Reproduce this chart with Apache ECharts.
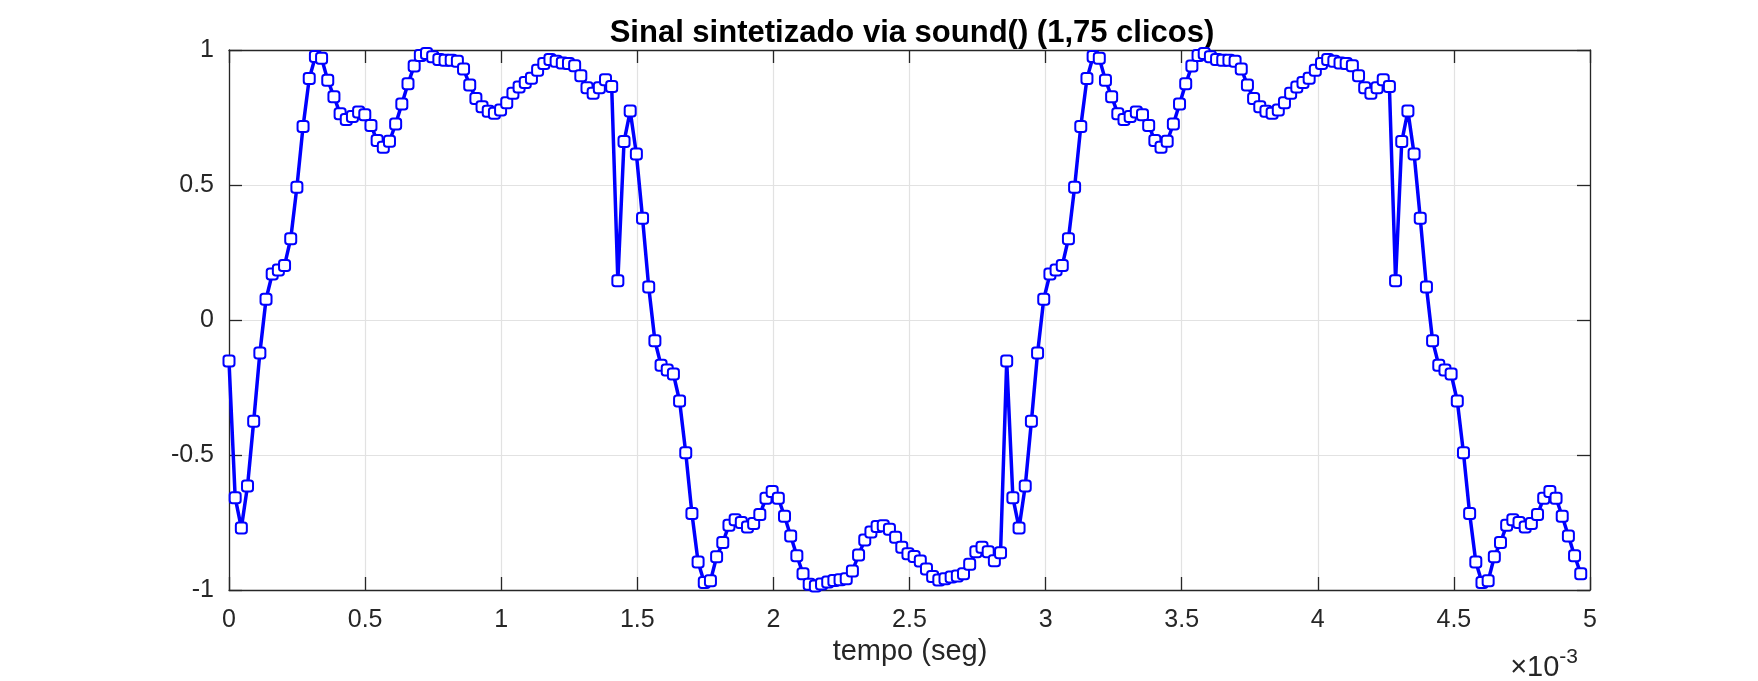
<!DOCTYPE html>
<html>
<head>
<meta charset="utf-8">
<script src="https://cdn.jsdelivr.net/npm/echarts@6/dist/echarts.min.js"></script>
<style>
  html, body { margin: 0; padding: 0; background: #fff; }
  #grafico { width: 1758px; height: 681px; }
</style>
</head>
<body>
<div id="grafico"></div>
<script>
// taxa de amostragem usada pelo sound()
const fs = 44100;
const titulo = 'Sinal sintetizado via sound() (1,75 clicos)';
const rotuloX = 'tempo (seg)';
const yTicks = [-1, -0.5, 0, 0.5, 1];

// amostras, n = 0 .. 219
const sinal = [
  // primeiro ciclo, primeira metade
  -0.152, -0.658, -0.770, -0.615, -0.375, -0.122, 0.077, 0.170, 0.185, 0.202,
  0.301, 0.492, 0.717, 0.894, 0.976, 0.969, 0.888, 0.827, 0.764, 0.743,
  0.754, 0.770, 0.760, 0.720, 0.665, 0.640, 0.662, 0.726, 0.800, 0.875,
  0.941, 0.980, 0.987, 0.975, 0.965, 0.962, 0.962, 0.958, 0.930, 0.870,
  0.820, 0.790, 0.773, 0.766, 0.778, 0.805, 0.840, 0.863, 0.880, 0.895,
  0.925, 0.950, 0.965, 0.958, 0.952, 0.950, 0.942, 0.905, 0.860, 0.840,
  0.860, 0.890, 0.865,
  // primeiro ciclo, segunda metade
  0.145, 0.661, 0.774, 0.615, 0.377, 0.122, -0.077, -0.168, -0.185, -0.200,
  -0.300, -0.492, -0.717, -0.896, -0.972, -0.966, -0.877, -0.824, -0.760, -0.740,
  -0.750, -0.767, -0.754, -0.720, -0.660, -0.635, -0.660, -0.727, -0.800, -0.873,
  -0.940, -0.979, -0.985, -0.978, -0.970, -0.965, -0.962, -0.958, -0.930, -0.870,
  -0.815, -0.785, -0.765, -0.762, -0.775, -0.805, -0.842, -0.866, -0.876, -0.893,
  -0.922, -0.950, -0.963, -0.958, -0.952, -0.948, -0.940, -0.905, -0.858, -0.842,
  -0.858, -0.892, -0.862,
  // segundo ciclo
  -0.152, -0.658, -0.770, -0.615, -0.375, -0.122, 0.077, 0.170, 0.185, 0.202,
  0.301, 0.492, 0.717, 0.894, 0.976, 0.969, 0.888, 0.827, 0.764, 0.743,
  0.754, 0.770, 0.760, 0.720, 0.665, 0.640, 0.662, 0.726, 0.800, 0.875,
  0.941, 0.980, 0.987, 0.975, 0.965, 0.962, 0.962, 0.958, 0.930, 0.870,
  0.820, 0.790, 0.773, 0.766, 0.778, 0.805, 0.840, 0.863, 0.880, 0.895,
  0.925, 0.950, 0.965, 0.958, 0.952, 0.950, 0.942, 0.905, 0.860, 0.840,
  0.860, 0.890, 0.865,
  0.145, 0.661, 0.774, 0.615, 0.377, 0.122, -0.077, -0.168, -0.185, -0.200,
  -0.300, -0.492, -0.717, -0.896, -0.972, -0.966, -0.877, -0.824, -0.760, -0.740,
  -0.750, -0.767, -0.754, -0.720, -0.660, -0.635, -0.660, -0.727, -0.800, -0.873,
  -0.940
];

const pontos = sinal.map((v, n) => [n / fs, v]);

const chart = echarts.init(document.getElementById('grafico'));

const corEixo = '#262626';
const fonte = '"Liberation Sans", Arial, Helvetica, sans-serif';

const eixoX = {
  type: 'value',
  min: 0,
  max: 0.005,
  interval: 0.0005,
  axisLine: { onZero: false, lineStyle: { color: corEixo, width: 1.3 } },
  axisTick: { inside: true, length: 13, lineStyle: { color: corEixo, width: 1.3 } },
  splitLine: { show: false },
};

const eixoY = {
  type: 'value',
  min: -1,
  max: 1,
  interval: 0.5,
  axisLine: { onZero: false, lineStyle: { color: corEixo, width: 1.3 } },
  axisTick: { inside: true, length: 13, lineStyle: { color: corEixo, width: 1.3 } },
  splitLine: { show: false },
};

chart.setOption({
  animation: false,
  backgroundColor: '#fff',
  grid: { left: 229, right: 168, top: 50, bottom: 91 },
  xAxis: [
    {
      ...eixoX,
      position: 'bottom',
      splitLine: { show: true, lineStyle: { color: '#e2e2e2', width: 1.2 } },
      axisLabel: {
        color: corEixo,
        fontFamily: fonte,
        fontSize: 25,
        margin: 18,
        formatter: (v) => String(Math.round(v * 10000) / 10),
      },
    },
    { ...eixoX, position: 'top', axisLabel: { show: false } },
  ],
  yAxis: [
    {
      ...eixoY,
      position: 'left',
      splitLine: { show: true, lineStyle: { color: '#e2e2e2', width: 1.2 } },
      axisLabel: {
        color: corEixo,
        fontFamily: fonte,
        fontSize: 25,
        margin: 15,
        customValues: yTicks,
        formatter: (v) => String(v),
      },
    },
    { ...eixoY, position: 'right', axisLabel: { show: false } },
  ],
  graphic: [
    {
      type: 'text',
      x: 912,
      y: 33,
      style: {
        text: titulo,
        font: 'bold 31px ' + fonte,
        fill: '#000',
        textAlign: 'center',
        textVerticalAlign: 'middle',
      },
    },
    {
      type: 'text',
      x: 910,
      y: 652,
      style: {
        text: rotuloX,
        font: '29px ' + fonte,
        fill: corEixo,
        textAlign: 'center',
        textVerticalAlign: 'middle',
      },
    },
    {
      type: 'text',
      x: 1578,
      y: 682,
      style: {
        text: '{a|×10}{b|-3}',
        textAlign: 'right',
        textVerticalAlign: 'bottom',
        rich: {
          a: { font: '29px ' + fonte, fill: corEixo, verticalAlign: 'bottom' },
          b: { font: '21px ' + fonte, fill: corEixo, verticalAlign: 'top', padding: [0, 0, 14, 0] },
        },
      },
    },
  ],
  series: [
    {
      type: 'line',
      data: pontos,
      xAxisIndex: 0,
      yAxisIndex: 0,
      symbol: 'emptyRoundRect',
      symbolSize: 11,
      showAllSymbol: true,
      lineStyle: { color: '#0000ff', width: 3.5 },
      itemStyle: { color: '#0000ff', borderColor: '#0000ff', borderWidth: 2.8 },
    },
  ],
});
</script>
</body>
</html>
